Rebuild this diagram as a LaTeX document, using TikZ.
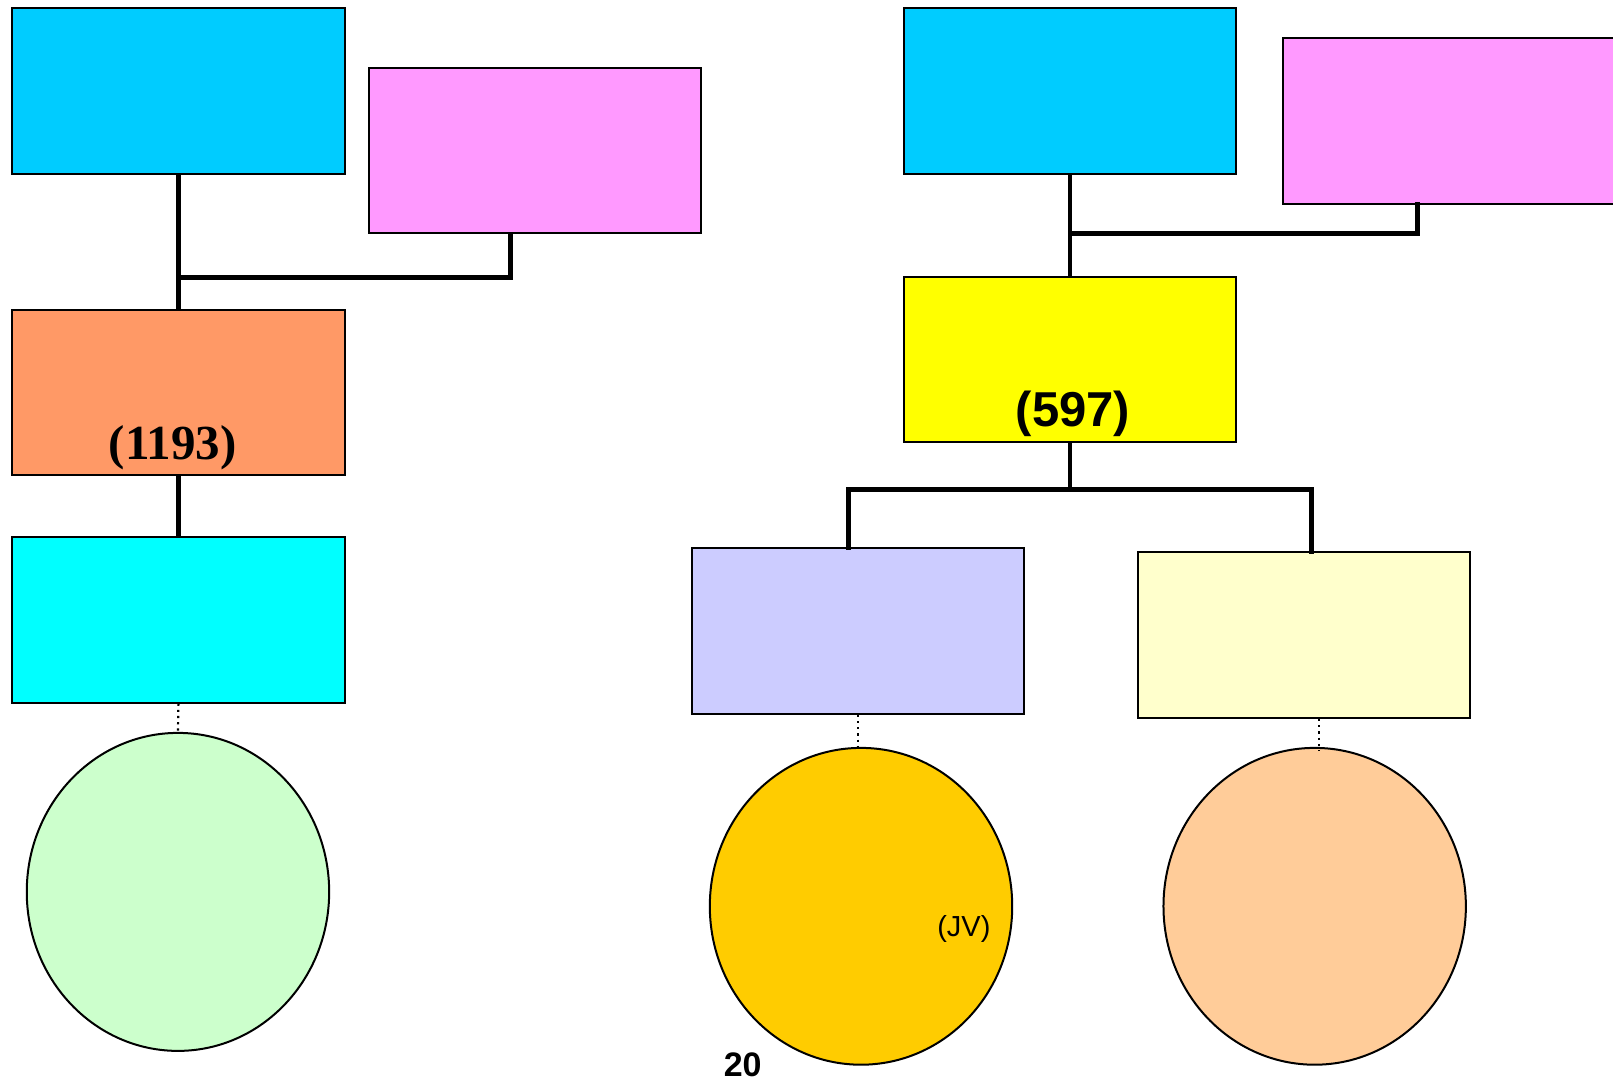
\documentclass[tikz,border=0pt]{standalone}
\usepackage{fontspec}
\usetikzlibrary{shapes.geometric}
\setmainfont{Liberation Serif}
\setsansfont{Liberation Sans}
\begin{document}
\begin{tikzpicture}[x=0.51435pt,y=-0.51435pt,
  box/.style={draw=black,line width=1pt,inner sep=0pt,minimum width=166.1pt,minimum height=82.8pt,anchor=north west},
  circ/.style={draw=black,line width=1pt,ellipse,inner sep=0pt,minimum width=151.2pt,minimum height=158.4pt},
  conn/.style={line width=2.3pt,line cap=rect},
  dots/.style={line width=1.1pt,dotted}]
\useasboundingbox (0,0) rectangle (1568,1051);
\definecolor{cblue}{HTML}{00CCFF}
\definecolor{cpink}{HTML}{FF99FF}
\definecolor{corange}{HTML}{FF9966}
\definecolor{ccyan}{HTML}{00FFFF}
\definecolor{cgreen}{HTML}{CCFFCC}
\definecolor{cyellow}{HTML}{FFFF00}
\definecolor{clav}{HTML}{CCCCFF}
\definecolor{clyellow}{HTML}{FFFFCC}
\definecolor{cgold}{HTML}{FFCC00}
\definecolor{cpeach}{HTML}{FFCC99}
% left
\node[box,fill=cblue] (b1) at (11,7) {};
\node[box,fill=cpink] (p1) at (358,65) {};
\node[box,fill=corange] (o1) at (11,300) {};
\node[font=\rmfamily\bfseries\fontsize{24.5}{27}\selectfont] (t1) at (168,435) {(1193)};
\node[box,fill=ccyan] (c1) at (11,521) {};
\node[circ,fill=cgreen,minimum height=159pt] (g1) at (173,867) {};
\coordinate (j1) at (173,270);
\coordinate (j1r) at (496,270);
\draw[conn] (b1.south) -- (o1.north);
\draw[conn] (j1) -- (j1r) -- (j1r |- p1.south);
\draw[conn] (o1.south) -- (c1.north);
\draw[dots] (c1.south) -- (g1.north);
% right
\node[box,fill=cblue] (b2) at (878,7) {};
\node[box,fill=cpink] (p2) at (1246,36) {};
\node[box,fill=cyellow] (y2) at (878,268) {};
\node[font=\sffamily\bfseries\fontsize{24.5}{27}\selectfont] (t2) at (1043,402) {(597)};
\node[box,fill=clav] (l2) at (672,532) {};
\node[box,fill=clyellow] (ly2) at (1105,536) {};
\node[circ,fill=cgold] (gc) at (837,881) {};
\node[circ,fill=cpeach] (pc) at (1278,881) {};
\node[font=\sffamily\fontsize{14.5}{16}\selectfont] (jv) at (937,903) {(JV)};
\node[font=\sffamily\bfseries\fontsize{17}{19}\selectfont] (pg) at (722,1035) {20};
\coordinate (j2) at (1040,227);
\coordinate (j2r) at (1378,227);
\coordinate (k2) at (1040,476);
\coordinate (k2l) at (825,476);
\coordinate (k2r) at (1275,476);
\coordinate (gd) at (834,727);
\coordinate (pd) at (1282,730);
\draw[conn] (b2.south -| j2) -- (y2.north -| j2);
\draw[conn] (j2) -- (j2r) -- (j2r |- p2.south);
\draw[conn] (y2.south -| k2) -- (k2);
\draw[conn] (k2l |- l2.north) -- (k2l) -- (k2r) -- (k2r |- ly2.north);
\draw[dots] (gd |- l2.south) -- (gd);
\draw[dots] (pd |- ly2.south) -- (pd);
\end{tikzpicture}
\end{document}
